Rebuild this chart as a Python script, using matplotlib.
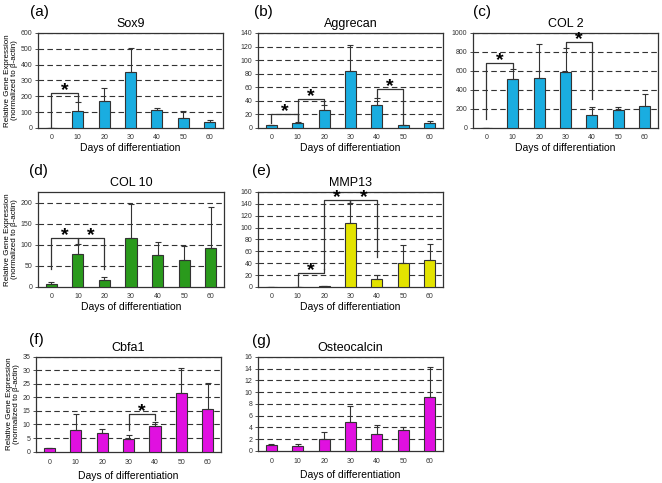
import matplotlib
matplotlib.use("Agg")
import matplotlib.pyplot as plt
import numpy as np

plt.rcParams['font.family'] = ['Liberation Sans', 'DejaVu Sans']

days = ["0", "10", "20", "30", "40", "50", "60"]

sox9 = [2, 105, 170, 352, 113, 65, 35]
sox9_err = [0, 60, 80, 156, 15, 45, 17]

aggrecan = [5, 8, 27, 84, 34, 4, 7]
aggrecan_err = [0, 1, 7, 38, 10, 1, 3]

col2 = [5, 520, 525, 585, 135, 190, 235]
col2_err = [0, 100, 355, 255, 85, 35, 125]

col10 = [6, 77, 16, 115, 75, 64, 92]
col10_err = [6, 25, 8, 82, 32, 33, 97]

mmp13 = [0.5, 0.5, 1, 107, 13, 40, 46]
mmp13_err = [0, 0, 1, 35, 8, 31, 26]

cbfa1 = [1.2, 8.0, 6.8, 4.8, 9.6, 21.7, 15.8]
cbfa1_err = [0.3, 6.0, 1.5, 1.2, 1.4, 9.1, 9.4]

osteocalcin = [1.0, 0.9, 2.0, 4.9, 2.8, 3.6, 9.2]
osteocalcin_err = [0.2, 0.3, 1.2, 2.7, 1.6, 0.5, 5.1]

# brackets: (left idx, right idx, top y, left leg end, right leg end)
panels = [
    ("(a)", "Sox9", sox9, sox9_err, "#1aade0", 600, 100,
     [(0, 1, 220, 5, 170)], [0.0574, 0.735, 0.2795, 0.1967], (-0.045, 1.15)),
    ("(b)", "Aggrecan", aggrecan, aggrecan_err, "#1aade0", 140, 20,
     [(0, 1, 21, 7, 10), (1, 2, 43, 10, 35), (4, 5, 58, 45, 6)], [0.3897, 0.735, 0.2795, 0.1967], (-0.02, 1.15)),
    ("(c)", "COL 2", col2, col2_err, "#1aade0", 1000, 200,
     [(0, 1, 680, 90, 630), (3, 4, 900, 850, 300)], [0.7145, 0.735, 0.2795, 0.1967], (0.0, 1.15)),
    ("(d)", "COL 10", col10, col10_err, "#2a9a1c", 225, 50,
     [(0, 1, 115, 42, 105), (1, 2, 115, 105, 42)], [0.0574, 0.4058, 0.281, 0.1967], (-0.05, 1.15)),
    ("(e)", "MMP13", mmp13, mmp13_err, "#e3e300", 160, 20,
     [(1, 2, 23, 2, 30), (2, 3, 147, 30, 143), (3, 4, 147, 143, 50)], [0.3897, 0.4058, 0.2795, 0.1967], (-0.03, 1.15)),
    ("(f)", "Cbfa1", cbfa1, cbfa1_err, "#e010e0", 35, 5,
     [(3, 4, 14, 8, 11.5)], [0.0544, 0.065, 0.2795, 0.1967], (-0.04, 1.1)),
    ("(g)", "Osteocalcin", osteocalcin, osteocalcin_err, "#e010e0", 16, 2,
     [], [0.3897, 0.0665, 0.2795, 0.1945], (-0.03, 1.1)),
]

fig = plt.figure(figsize=(6.62, 4.83), dpi=100)

for label, title, vals, errs, color, ymax, step, brackets, pos, lpos in panels:
    ax = fig.add_axes(pos)
    x = np.arange(len(days))
    ax.bar(x, vals, width=0.42, color=color, edgecolor="#333333", linewidth=0.8,
           yerr=[np.zeros(len(errs)), errs], error_kw=dict(ecolor="#333333", elinewidth=0.8,
                                                           capsize=2.5, capthick=0.8), zorder=3)
    ax.set_xlim(-0.5, len(days) - 0.5)
    ax.set_ylim(0, ymax)
    ticks = np.arange(0, ymax + 0.01, step)
    ax.set_yticks(ticks)
    ax.set_yticklabels([f"{t:g}" for t in ticks])
    for t in ticks[1:]:
        ax.axhline(t, color="#333333", linestyle=(0, (5, 3)), linewidth=0.8, zorder=1)
    ax.set_xticks(x)
    ax.set_xticklabels(days)
    ax.tick_params(axis="both", labelsize=5, length=2, width=0.6, colors="#333333", pad=2)
    ax.tick_params(axis="x", length=0, pad=4)
    for s in ax.spines.values():
        s.set_linewidth(0.9)
        s.set_color("#333333")
    ax.set_title(title, fontsize=9, pad=4)
    bottom_row = label in ("(f)", "(g)")
    if bottom_row:
        ax.tick_params(axis="x", pad=5)
    ax.set_xlabel("Days of differentiation", fontsize=7.5, labelpad=4 if bottom_row else 2)
    if label in ("(a)", "(d)", "(f)"):
        ax.set_ylabel("Relative Gene Expression\n(normalized to β-actin)", fontsize=5.8,
                      labelpad=2, linespacing=1.0)
    ax.text(lpos[0], lpos[1], label, transform=ax.transAxes,
            fontsize=11, ha="left", va="bottom")
    for i0, i1, top, l0, l1 in brackets:
        ax.plot([i0, i0, i1, i1], [l0, top, top, l1], color="#333333", linewidth=0.9, zorder=4)
        ax.annotate("*", xy=((i0 + i1) / 2, top), xytext=(0, -1.5), textcoords="offset points",
                    ha="center", va="baseline", fontsize=14, fontweight="bold", zorder=5)

fig.savefig("out.png", dpi=100)
